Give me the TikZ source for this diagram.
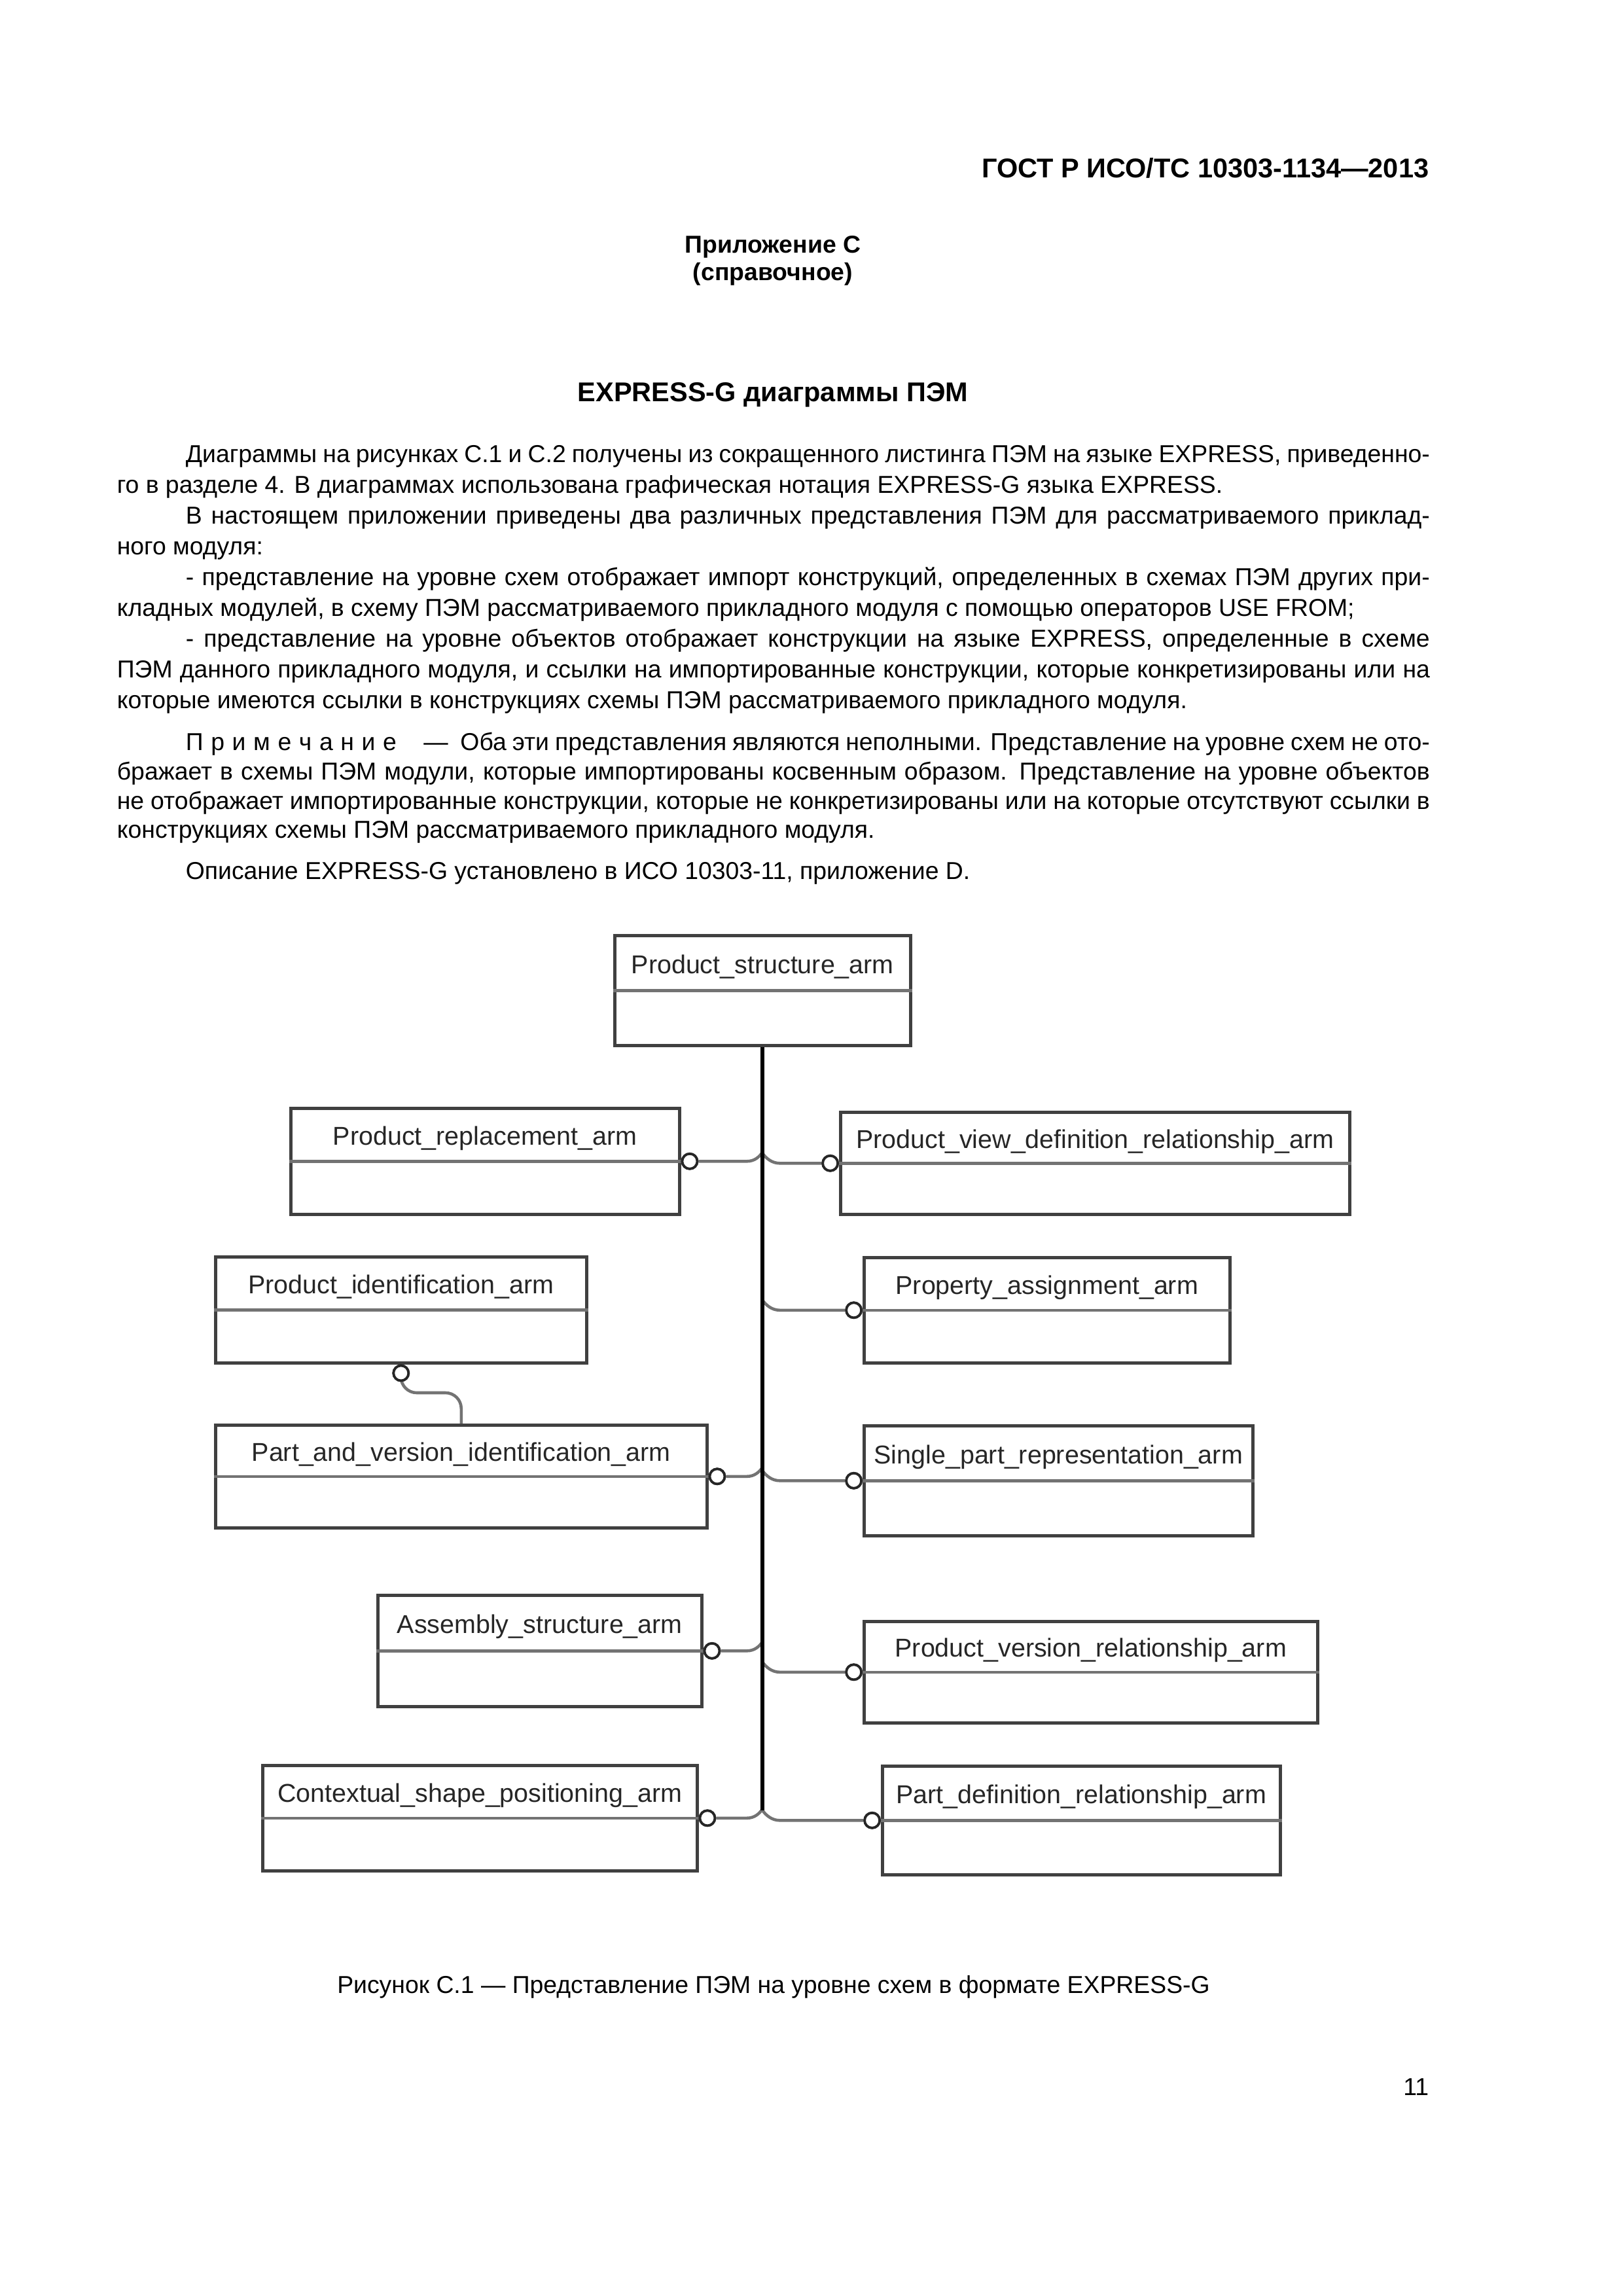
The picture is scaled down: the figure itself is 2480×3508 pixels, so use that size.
\documentclass[tikz,border=0pt]{standalone}
\usepackage{fontspec}
\setmainfont{Liberation Sans}
\usetikzlibrary{calc}
\newlength\pu
\setlength\pu{0.0846667mm}
\tikzset{
	entity/.style={draw=black!75, line width=1.1pt, fill=white, anchor=north west, inner sep=0pt},
	divline/.style={draw=black!55, line width=1.1pt},
	entlabel/.style={anchor=base, inner sep=0pt, font=\fontsize{9.5}{11}\selectfont, text=black!85},
	hub/.style={circle, draw=black!85, line width=0.9pt, fill=white, minimum size=23\pu, inner sep=0pt},
	conn/.style={draw=black!55, line width=1.1pt},
	trunk/.style={draw=black, line width=1.5pt},
	bodyline/.style={anchor=base west, inner sep=0pt, font=\fontsize{9}{11}\selectfont},
	heading/.style={anchor=base, inner sep=0pt, font=\bfseries\fontsize{9}{11}\selectfont}
}
\begin{document}
\begin{tikzpicture}[x=0.0846667mm, y=-0.0846667mm]
	\fill[white] (0,0) rectangle (2480,3508);
	\useasboundingbox (0,0) rectangle (2480,3508);

	% page head and text
	\node[anchor=base east, inner sep=0pt, font=\bfseries\fontsize{10}{12}\selectfont] (gost) at (2184,271) {ГОСТ Р ИСО/ТС 10303-1134—2013};
	\node[heading] (app) at (1181,386) {Приложение С};
	\node[heading] (ref) at (1181,428) {(справочное)};
	\node[heading, font=\bfseries\fontsize{10}{12}\selectfont] (title) at (1181,613) {EXPRESS-G диаграммы ПЭМ};

	\node[bodyline] (l1) at (283,706) {\makebox[1901\pu][s]{Диаграммы на рисунках С.1 и С.2 получены из сокращенного листинга ПЭМ на языке EXPRESS, приведенно-}};
	\node[bodyline] (l2) at (178,753) {го в разделе 4. В диаграммах использована графическая нотация EXPRESS-G языка EXPRESS.};
	\node[bodyline] (l3) at (283,800) {\makebox[1901\pu][s]{В настоящем приложении приведены два различных представления ПЭМ для рассматриваемого приклад-}};
	\node[bodyline] (l4) at (178,847) {ного модуля:};
	\node[bodyline] (l5) at (283,894) {\makebox[1901\pu][s]{- представление на уровне схем отображает импорт конструкций, определенных в схемах ПЭМ других при-}};
	\node[bodyline] (l6) at (178,941) {кладных модулей, в схему ПЭМ рассматриваемого прикладного модуля с помощью операторов USE FROM;};
	\node[bodyline] (l7) at (283,988) {\makebox[1901\pu][s]{- представление на уровне объектов отображает конструкции на языке EXPRESS, определенные в схеме}};
	\node[bodyline] (l8) at (178,1035) {\makebox[2006\pu][s]{ПЭМ данного прикладного модуля, и ссылки на импортированные конструкции, которые конкретизированы или на}};
	\node[bodyline] (l9) at (178,1082) {которые имеются ссылки в конструкциях схемы ПЭМ рассматриваемого прикладного модуля.};

	\node[bodyline] (n1) at (283,1146) {\makebox[1901\pu][s]{\mbox{\spaceskip=2.8pt П р и м е ч а н и е\hspace{10pt}—\hspace{4.5pt}}Оба эти представления являются неполными. Представление на уровне схем не ото-}};
	\node[bodyline] (n2) at (178,1191) {\makebox[2006\pu][s]{бражает в схемы ПЭМ модули, которые импортированы косвенным образом. Представление на уровне объектов}};
	\node[bodyline] (n3) at (178,1236) {\makebox[2006\pu][s]{не отображает импортированные конструкции, которые не конкретизированы или на которые отсутствуют ссылки в}};
	\node[bodyline] (n4) at (178,1280) {конструкциях схемы ПЭМ рассматриваемого прикладного модуля.};

	\node[bodyline] (desc) at (283,1343) {Описание EXPRESS-G установлено в ИСО 10303-11, приложение D.};

	% entity boxes
	\foreach \id/\xa/\ya/\xb/\yb/\lbl in {
		psa/937/1427/1389/1595/Product\_structure\_arm,
		pra/442/1691/1036/1853/Product\_replacement\_arm,
		pvdr/1282/1697/2060/1853/Product\_view\_definition\_relationship\_arm,
		pia/327/1918/894/2080/Product\_identification\_arm,
		pavi/327/2175/1078/2332/Part\_and\_version\_identification\_arm,
		paa/1318/1919/1877/2080/Property\_assignment\_arm,
		spr/1318/2176/1912/2344/Single\_part\_representation\_arm,
		asa/575/2435/1070/2605/Assembly\_structure\_arm,
		pvr/1318/2475/2011/2630/Product\_version\_relationship\_arm,
		csp/399/2695/1063/2856/Contextual\_shape\_positioning\_arm,
		pdr/1346/2696/1954/2862/Part\_definition\_relationship\_arm}
	{
		\node[entity, minimum width={(\xb-\xa)*0.0846667mm}, minimum height={(\yb-\ya)*0.0846667mm}] (\id) at (\xa,\ya) {};
		\draw[divline] (\id.west) -- (\id.east);
		\node[entlabel] (\id-t) at ($(\id.north)!0.5!(\id.center)+(0,17)$) {\lbl};
	}

	% circles
	\foreach \id in {pra, pavi, asa, csp}
		\node[hub, anchor=west] (\id-c) at (\id.east) {};
	\foreach \id in {pvdr, paa, spr, pvr, pdr}
		\node[hub, anchor=east] (\id-c) at (\id.west) {};
	\node[hub, anchor=north] (pia-c) at (pia.south) {};

	% connectors
	\coordinate (trunk-end) at ($(psa.south)+(0,1166)$);
	\foreach \id in {pra, pavi, asa, csp}
		\draw[conn] (\id-c.east) -- ($(\id-c.east -| trunk-end)+(-24,0)$) .. controls +(12,0) and +(-5,7) .. ($(\id-c.east -| trunk-end)+(0,-14)$);
	\foreach \id in {pvdr, paa, spr, pvr, pdr}
		\draw[conn] ($(\id-c.west -| trunk-end)+(0,-15)$) .. controls +(5,7) and +(-12,0) .. ($(\id-c.west -| trunk-end)+(26,0)$) -- (\id-c.west);
	\draw[conn, rounded corners=24\pu] (pia-c.south) |- ($(pavi.north)+(0,-47)$) -- (pavi.north);
	\draw[trunk] (psa.south) -- (trunk-end);

	% circles again on top
	\foreach \id in {pra, pavi, asa, csp, pvdr, paa, spr, pvr, pdr, pia}
		\node[hub] at (\id-c) {};

	\node[anchor=base, inner sep=0pt, font=\fontsize{9}{11}\selectfont] (cap) at (1182,3045) {Рисунок С.1 — Представление ПЭМ на уровне схем в формате EXPRESS-G};
	\node[anchor=base east, inner sep=0pt, font=\fontsize{9}{11}\selectfont] (pnum) at (2184,3201) {11};
\end{tikzpicture}
\end{document}
